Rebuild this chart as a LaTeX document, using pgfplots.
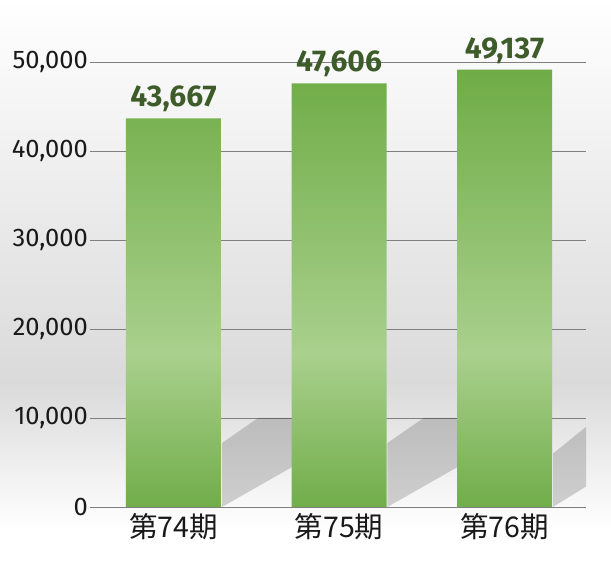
\documentclass[border=0pt]{standalone}
\usepackage{fontspec}
\setmainfont{Fira Sans}
\newfontfamily\cjk{Noto Sans CJK JP}
\usepackage{pgfplots}
\pgfplotsset{compat=1.18}

\definecolor{valgreen}{HTML}{3D5C29}
\definecolor{gridgray}{HTML}{808080}
\definecolor{bggray}{HTML}{DADADA}
\definecolor{bartop}{HTML}{6FAC46}
\definecolor{barmid}{HTML}{A9D08D}
\definecolor{barbot}{HTML}{71AD4A}

% path box maps onto 25bp..75bp
\pgfdeclareverticalshading{barshade}{100bp}{color(0bp)=(barbot); color(25bp)=(barbot);
  color(42.5bp)=(barmid); color(75bp)=(bartop); color(100bp)=(bartop)}
\pgfdeclareverticalshading{bgshade}{100bp}{color(0bp)=(white); color(28.4bp)=(white);
  color(41.4bp)=(bggray); color(75bp)=(white); color(100bp)=(white)}

\begin{document}
\begin{tikzpicture}
  % background, also the bounding box (611 x 569)
  \shade[shading=bgshade] (-90pt,-62pt) rectangle (521pt,507pt);

  \begin{axis}[
      at={(0pt,0pt)}, anchor=south west,
      scale only axis, width=496pt, height=445pt,
      xmin=-0.5045, xmax=2.4924,
      ymin=0, ymax=50000,
      ytick={0,10000,20000,30000,40000,50000},
      xtick={0,1,2},
      xticklabels={第74期,第75期,第76期},
      axis line style={draw=none},
      major tick length=0pt,
      ymajorgrids,
      grid style={gridgray, line width=0.9pt},
      scaled y ticks=false,
      yticklabel style={font=\fontsize{25.5}{25.5}\selectfont, text=black!90, anchor=east, inner sep=0pt, xshift=-2pt,
        /pgf/number format/fixed, /pgf/number format/precision=0,
        /pgf/number format/1000 sep={,}, /pgf/number format/assume math mode=true},
      xticklabel style={font=\cjk\fontsize{28.5}{28.5}\selectfont, text=black!90, anchor=north, inner sep=0pt, yshift=-6pt},
      clip=false,
    ]
    % shadows cast by the bars
    \fill[black, opacity=0.17] (axis cs:0.293,0) -- (axis cs:0.293,7190)
      -- (axis cs:0.511,10000) -- (axis cs:0.716,10000) -- (axis cs:0.716,4490) -- cycle;
    \fill[black, opacity=0.17] (axis cs:1.293,0) -- (axis cs:1.293,7190)
      -- (axis cs:1.511,10000) -- (axis cs:1.716,10000) -- (axis cs:1.716,4490) -- cycle;
    \fill[black, opacity=0.17] (axis cs:2.293,0) -- (axis cs:2.293,6000)
      -- (axis cs:2.4924,9000) -- (axis cs:2.4924,2300) -- cycle;

    \addplot[ybar, bar width=95pt, draw=none, shade, shading=barshade,
      nodes near coords,
      nodes near coords style={font=\bfseries\fontsize{30}{30}\selectfont, text=valgreen,
        anchor=south, inner sep=0pt, yshift=6pt,
        /pgf/number format/fixed, /pgf/number format/precision=0,
        /pgf/number format/1000 sep={,}, /pgf/number format/assume math mode=true}]
      coordinates {(0,43667) (1,47606) (2,49137)};
  \end{axis}
\end{tikzpicture}
\end{document}
